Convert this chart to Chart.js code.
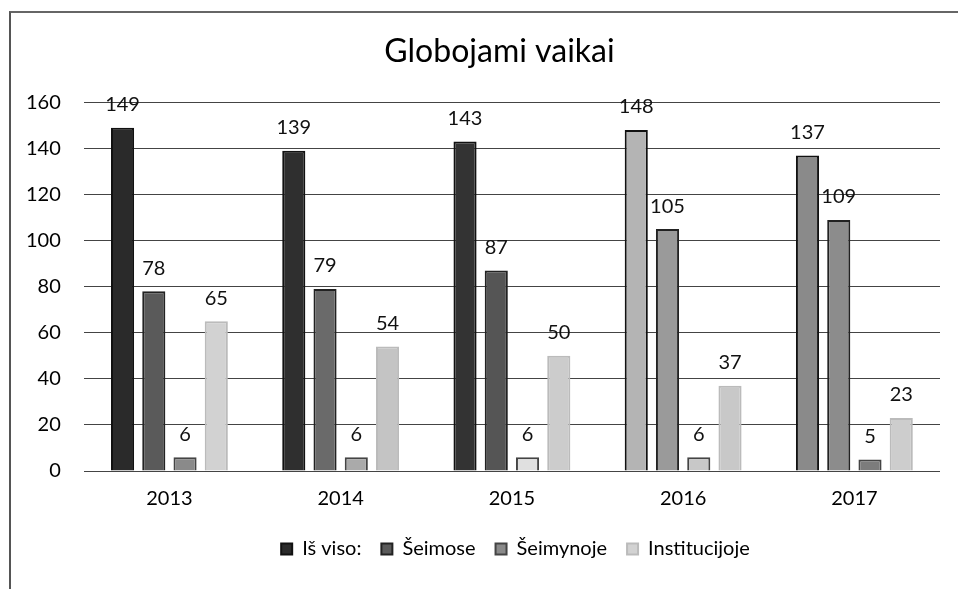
<!DOCTYPE html>
<html>
<head>
<meta charset="utf-8">
<script src="https://cdn.jsdelivr.net/npm/chart.js@4"></script>
<style>
  html, body { margin: 0; padding: 0; background: #fff; }
  #box { position: absolute; left: 9px; top: 11px; width: 949px; height: 578px; box-sizing: border-box;
         border-left: 2px solid #555; border-top: 2px solid #666; }
</style>
</head>
<body>
<div id="box"><canvas id="grafik"></canvas></div>
<script>
// kategoriler ve seriler
const metai = ["2013", "2014", "2015", "2016", "2017"];
const isViso = [149, 139, 143, 148, 137];
const seimose = [78, 79, 87, 105, 109];
const seimynoje = [6, 6, 6, 6, 5];
const institucijoje = [65, 54, 50, 37, 23];
const yTicks = [0, 20, 40, 60, 80, 100, 120, 140, 160];

const SRIFTAS = "Lato, 'Noto Sans', sans-serif";

// taranmış görüntüde renkler yıllara göre biraz değişiyor
const renkler = {
  isViso:        ["#2a2a2a", "#2f2f2f", "#333333", "#b4b4b4", "#8a8a8a"],
  seimose:       ["#5a5a5a", "#6a6a6a", "#555555", "#9a9a9a", "#8c8c8c"],
  seimynoje:     ["#8a8a8a", "#aaaaaa", "#e0e0e0", "#c8c8c8", "#7c7c7c"],
  institucijoje: ["#d2d2d2", "#c4c4c4", "#cccccc", "#c8c8c8", "#cdcdcd"],
};

// bar üstü değer etiketleri
const degerEtiketi = {
  id: "degerEtiketi",
  afterDatasetsDraw(chart) {
    const ctx = chart.ctx;
    ctx.save();
    ctx.font = "20px " + SRIFTAS;
    ctx.fillStyle = "#111";
    ctx.textAlign = "center";
    ctx.textBaseline = "bottom";
    chart.data.datasets.forEach((ds, i) => {
      chart.getDatasetMeta(i).data.forEach((bar, j) => {
        ctx.fillText(ds.data[j], bar.x, bar.y - 13);
      });
    });
    ctx.restore();
  }
};

// başlık ve lejant orijinalde biraz sağa kaymış
const kaydir = {
  id: "kaydir",
  afterLayout(chart) {
    const t = chart.titleBlock, l = chart.legend;
    if (t) { t.left += 28; t.right += 28; }
    if (l) { l.left += 44; l.right += 44; }
  }
};

function seri(ad, veri, renk, kenar) {
  return {
    label: ad,
    data: veri,
    backgroundColor: renk,
    borderColor: kenar,
    borderWidth: 2,
  };
}

new Chart(document.getElementById("grafik"), {
  type: "bar",
  data: {
    labels: metai,
    datasets: [
      seri("Iš viso:", isViso, renkler.isViso, "#111"),
      seri("Šeimose", seimose, renkler.seimose, "#222"),
      seri("Šeimynoje", seimynoje, renkler.seimynoje, "#444"),
      seri("Institucijoje", institucijoje, renkler.institucijoje, "#bbb"),
    ]
  },
  options: {
    responsive: true,
    maintainAspectRatio: false,
    animation: false,
    datasets: { bar: { categoryPercentage: 0.73, barPercentage: 0.74 } },
    layout: { padding: { top: 19, left: -8, right: 18, bottom: 20 } },
    plugins: {
      tooltip: { enabled: false },
      title: {
        display: true,
        text: "Globojami vaikai",
        color: "#000",
        font: { family: SRIFTAS, size: 32, weight: "normal" },
        padding: { top: 0, bottom: 32 }
      },
      legend: {
        position: "bottom",
        labels: {
          color: "#000",
          boxWidth: 11, boxHeight: 11,
          padding: 20,
          font: { family: SRIFTAS, size: 20 }
        }
      }
    },
    scales: {
      x: {
        grid: { display: false },
        border: { display: false },
        ticks: { color: "#000", padding: 8, font: { family: SRIFTAS, size: 20 } }
      },
      y: {
        min: 0, max: 160,
        afterBuildTicks: ax => { ax.ticks = yTicks.map(v => ({ value: v })); },
        border: { display: false },
        grid: { color: "#444", lineWidth: 1, drawTicks: false },
        ticks: { color: "#000", padding: 23, font: { family: SRIFTAS, size: 20 } }
      }
    }
  },
  plugins: [degerEtiketi, kaydir]
});
</script>
</body>
</html>
